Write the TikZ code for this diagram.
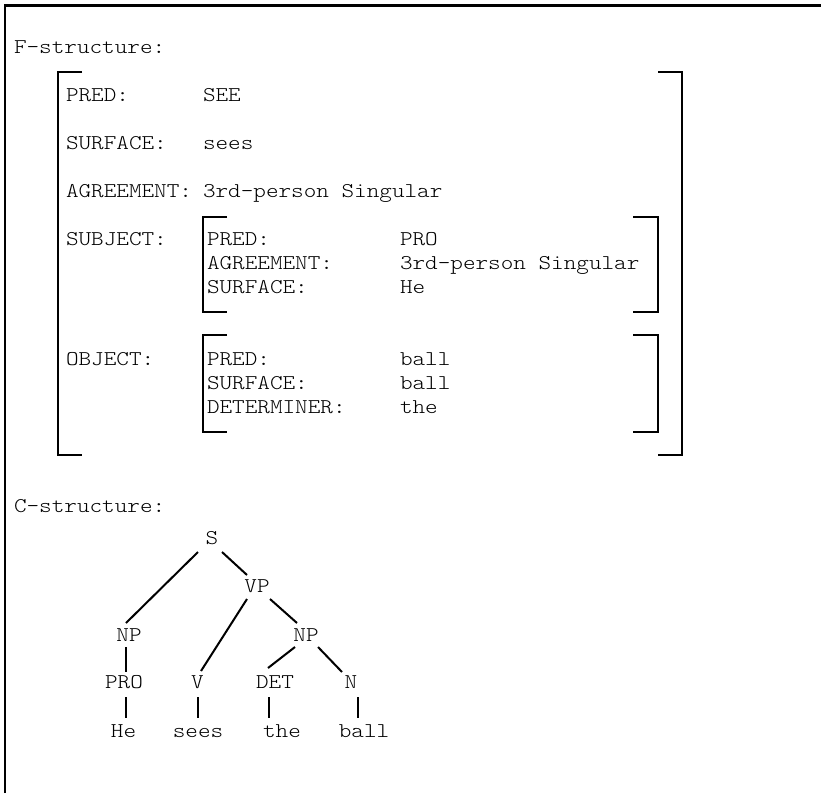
\documentclass[tikz,border=0pt]{standalone}
\usepackage{fontspec}
\newfontfamily\courtype{lmmonolt10-regular.otf}[FakeStretch=1.143]
\usetikzlibrary{calc}
\begin{document}
\begin{tikzpicture}[x=0.75pt,y=-0.75pt,
  txt/.style={font=\courtype\fontsize{15.75pt}{18pt}\selectfont, inner sep=0pt, outer sep=0pt, text=black},
  lbl/.style={txt, anchor=base west},
  tn/.style={txt, anchor=base},
  brk/.style={line width=1.5pt, line join=miter, line cap=butt},
  edge/.style={line width=1.5pt}]
\useasboundingbox (0,0) rectangle (821,793);
\fill[white] (0,0) rectangle (821,793);
\draw[line width=1.6pt] (5,793) -- (5,5.5) -- (821,5.5);

% F-structure text
\node[lbl] (fs) at (14,53) {F-structure:};
\node[lbl] (pred) at (66,101) {PRED:};
\node[lbl] (predv) at (203,101) {SEE};
\node[lbl] (surf) at (66,149) {SURFACE:};
\node[lbl] (surfv) at (203,149) {sees};
\node[lbl] (agr) at (66,197) {AGREEMENT:};
\node[lbl] (agrv) at (203,197) {3rd-person Singular};
\node[lbl] (subj) at (66,245) {SUBJECT:};
\node[lbl] (spred) at (207,245) {PRED:};
\node[lbl] (spredv) at (400,245) {PRO};
\node[lbl] (sagr) at (207,269) {AGREEMENT:};
\node[lbl] (sagrv) at (400,269) {3rd-person Singular};
\node[lbl] (ssurf) at (207,293) {SURFACE:};
\node[lbl] (ssurfv) at (400,293) {He};
\node[lbl] (obj) at (66,365) {OBJECT:};
\node[lbl] (opred) at (207,365) {PRED:};
\node[lbl] (opredv) at (400,365) {ball};
\node[lbl] (osurf) at (207,389) {SURFACE:};
\node[lbl] (osurfv) at (400,389) {ball};
\node[lbl] (odet) at (207,413) {DETERMINER:};
\node[lbl] (odetv) at (400,413) {the};
\node[lbl] (cs) at (14,512) {C-structure:};

% brackets
\draw[brk] (82,72) -- (58,72) -- (58,455) -- (82,455);
\draw[brk] (658,72) -- (682,72) -- (682,455) -- (658,455);
\draw[brk] (227,217) -- (203,217) -- (203,312) -- (227,312);
\draw[brk] (633,217) -- (658,217) -- (658,312) -- (633,312);
\draw[brk] (227,335) -- (203,335) -- (203,432) -- (227,432);
\draw[brk] (633,335) -- (658,335) -- (658,432) -- (633,432);

% tree nodes
\node[tn] (S) at (212,544) {S};
\node[tn] (VP) at (257,592) {VP};
\node[tn] (NP1) at (129,641) {NP};
\node[tn] (NP2) at (306,641) {NP};
\node[tn] (PRO) at (124,688) {PRO};
\node[tn] (V) at (197.5,688) {V};
\node[tn] (DET) at (275,688) {DET};
\node[tn] (N) at (351,688) {N};
\node[tn] (He) at (123.5,737) {He};
\node[tn] (sees) at (198,737) {sees};
\node[tn] (the) at (282,737) {the};
\node[tn] (ball) at (364,737) {ball};

% tree edges
\draw[edge] ($(S.base)+(-14,8)$) -- ($(NP1.base)+(-3,-18)$);
\draw[edge] ($(S.base)+(10,8)$) -- ($(VP.base)+(-10,-17)$);
\draw[edge] ($(VP.base)+(-10,7)$) -- ($(V.base)+(3.5,-17)$);
\draw[edge] ($(VP.base)+(13,7)$) -- ($(NP2.base)+(-9,-18)$);
\draw[edge] ($(NP1.base)+(-3,6)$) -- ($(PRO.base)+(2,-16)$);
\draw[edge] ($(NP2.base)+(-11,6)$) -- ($(DET.base)+(-7,-20)$);
\draw[edge] ($(NP2.base)+(12,6)$) -- ($(N.base)+(-9,-16)$);
\draw[edge] ($(PRO.base)+(2,9)$) -- ($(He.base)+(2.5,-19)$);
\draw[edge] ($(V.base)+(0.5,9)$) -- ($(sees.base)+(0,-19)$);
\draw[edge] ($(DET.base)+(-6,9)$) -- ($(the.base)+(-13,-19)$);
\draw[edge] ($(N.base)+(7,9)$) -- ($(ball.base)+(-6,-19)$);
\end{tikzpicture}
\end{document}
